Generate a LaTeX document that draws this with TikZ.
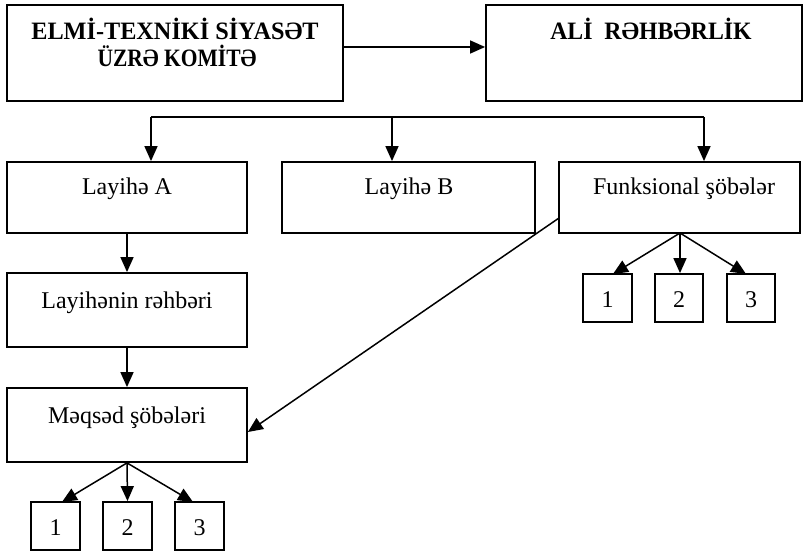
\documentclass[tikz,border=0pt]{standalone}
\usepackage{fontspec}
\setmainfont{Liberation Serif}
\usetikzlibrary{arrows.meta}
\begin{document}
\begin{tikzpicture}[x=1pt,y=-1pt,
  box/.style={draw, line width=1.8pt, inner sep=0pt},
  txt/.style={anchor=base, inner sep=0pt, font=\fontsize{24}{28}\selectfont},
  btxt/.style={anchor=base, inner sep=0pt, font=\fontsize{25}{30}\selectfont\bfseries},
  conn/.style={line width=1.5pt, -{Triangle[length=15pt,width=13pt]}},
  plain/.style={line width=1.5pt}]
\useasboundingbox (0,0) rectangle (806,553);
\fill[white] (0,0) rectangle (806,553);
% helper to place rectangles by corners
\newcommand{\boxat}[5]{\node[box, minimum width={#4-#2}, minimum height={#5-#3}] (#1) at ({(#2+#4)/2},{(#3+#5)/2}) {};}
\boxat{kom}{7}{5}{343}{101}
\boxat{ali}{486}{5}{802}{101}
\boxat{la}{7}{162}{247}{233}
\boxat{lb}{282}{162}{535}{233}
\boxat{fs}{559}{162}{800}{233}
\boxat{lr}{7}{273}{247}{347}
\boxat{ms}{7}{388}{247}{462}
\boxat{m1}{31}{502}{80}{550}
\boxat{m2}{103}{502}{152}{550}
\boxat{m3}{175}{502}{224}{550}
\boxat{f1}{583}{274}{632}{322}
\boxat{f2}{655}{274}{703}{322}
\boxat{f3}{727}{274}{775}{322}
% texts
\node[btxt] (komA) at (175,40) {\scalebox{0.97}[1]{ELMİ-TEXNİKİ SİYASƏT}};
\node[btxt] (komB) at (177,67) {\scalebox{0.86}[1]{ÜZRƏ KOMİTƏ}};
\node[btxt] (aliT) at (651,40) {\scalebox{0.95}[1]{ALİ\ \ RƏHBƏRLİK}};
\node[txt] (laT) at (127,195) {Layihə A};
\node[txt] (lbT) at (409,195) {Layihə B};
\node[txt] (fsT) at (684,195) {Funksional şöbələr};
\node[txt] (lrT) at (127,309) {Layihənin rəhbəri};
\node[txt] (msT) at (127,423) {Məqsəd şöbələri};
\node[txt] (m1T) at (m1.center |- 0,535) {1};
\node[txt] (m2T) at (m2.center |- 0,535) {2};
\node[txt] (m3T) at (m3.center |- 0,535) {3};
\node[txt] (f1T) at (f1.center |- 0,308) {1};
\node[txt] (f2T) at (f2.center |- 0,308) {2};
\node[txt] (f3T) at (f3.center |- 0,308) {3};
% connectors
\draw[conn] (kom.east |- 0,47) -- (ali.west |- 0,47);
\coordinate (bl) at (151,117);
\coordinate (bm) at (392,117);
\coordinate (br) at (704,117);
\draw[plain] (bl) -- (br);
\draw[conn] (bl) -- (bl |- la.north);
\draw[conn] (bm) -- (bm |- lb.north);
\draw[conn] (br) -- (br |- fs.north);
\draw[conn] (la.south) -- (lr.north);
\draw[conn] (lr.south) -- (ms.north);
\coordinate (msb) at (ms.south);
\draw[conn] (msb) -- (62,502);
\draw[conn] (msb) -- (m2.north);
\draw[conn] (msb) -- (193,502);
\coordinate (fsb) at (680,233);
\draw[conn] (fsb) -- (613,274);
\draw[conn] (fsb) -- (f2.north -| fsb);
\draw[conn] (fsb) -- (746,274);
\coordinate (fsl) at (559,218);
\draw[conn] (fsl) -- (ms.east |- 0,432);
\end{tikzpicture}
\end{document}
